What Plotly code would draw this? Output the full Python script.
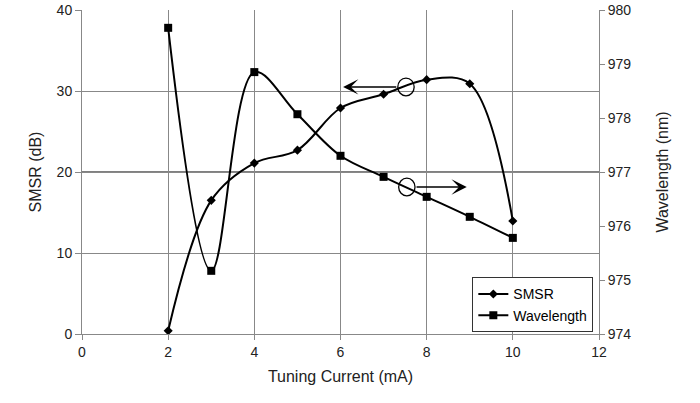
import plotly.graph_objects as go

current = [2, 3, 4, 5, 6, 7, 8, 9, 10]
smsr = [0.4, 16.5, 21.1, 22.7, 27.9, 29.6, 31.4, 30.9, 13.95]
wavelength = [979.67, 975.17, 978.85, 978.07, 977.3, 976.91, 976.54, 976.17, 975.78]

FONT = "Liberation Sans, Arial, sans-serif"

fig = go.Figure()
fig.add_trace(go.Scatter(
    x=current, y=smsr, name="SMSR", mode="lines+markers",
    line=dict(color="black", width=2, shape="spline", smoothing=1.0),
    marker=dict(symbol="diamond", size=7, color="black"),
))
fig.add_trace(go.Scatter(
    x=current, y=wavelength, name="Wavelength", mode="lines+markers", yaxis="y2",
    line=dict(color="black", width=2, shape="spline", smoothing=1.0),
    marker=dict(symbol="square", size=8, color="black"),
))

fig.update_layout(
    width=700, height=403,
    margin=dict(l=82, r=101, t=10, b=69, autoexpand=False),
    plot_bgcolor="white", paper_bgcolor="white",
    font=dict(family=FONT, size=14, color="#222"),
    showlegend=True,
    legend=dict(x=0.755, y=0.005, xanchor="left", yanchor="bottom",
                bordercolor="#333", borderwidth=1, bgcolor="white",
                font=dict(size=14, color="black"), tracegroupgap=0,
                itemwidth=30),
    xaxis=dict(range=[0, 12], dtick=2, tick0=0, showgrid=True, gridcolor="#888",
               gridwidth=1, zeroline=False, showline=True, linecolor="#888",
               ticks="outside", ticklen=5, tickcolor="#888", automargin=False,
               title=dict(text="Tuning Current (mA)", font=dict(size=16), standoff=12)),
    yaxis=dict(range=[0, 40], dtick=10, showgrid=True, gridcolor="#888",
               gridwidth=1, zeroline=False, showline=True, linecolor="#888",
               ticks="outside", ticklen=6, tickcolor="#888", automargin=False,
               ticklabeloverflow="allow",
               title=dict(text="SMSR (dB)", font=dict(size=16), standoff=11)),
    yaxis2=dict(range=[974, 980], dtick=1, overlaying="y", side="right",
                showgrid=False, zeroline=False, showline=True, linecolor="#888",
                ticks="outside", ticklen=5, tickcolor="#888", automargin=False,
                ticklabeloverflow="allow",
                title=dict(text="Wavelength (nm)", font=dict(size=16), standoff=26)),
)

# darker line at y=20
fig.add_shape(type="line", xref="x", yref="y", x0=0, x1=12, y0=20, y1=20,
              line=dict(color="black", width=1), layer="below")

# circles
fig.add_shape(type="circle", xref="x", yref="y", x0=7.33, x1=7.71, y0=29.4, y1=31.6,
              line=dict(color="black", width=1.3))
fig.add_shape(type="circle", xref="x", yref="y", x0=7.35, x1=7.73, y0=17.05, y1=19.25,
              line=dict(color="black", width=1.3))

# arrows
fig.add_annotation(x=6.06, y=30.5, ax=7.33, ay=30.5, xref="x", yref="y",
                   axref="x", ayref="y", showarrow=True, arrowhead=3,
                   arrowsize=1.7, arrowwidth=1.5, arrowcolor="black", text="")
fig.add_annotation(x=8.93, y=18.15, ax=7.73, ay=18.15, xref="x", yref="y",
                   axref="x", ayref="y", showarrow=True, arrowhead=3,
                   arrowsize=1.7, arrowwidth=1.5, arrowcolor="black", text="")

fig.write_html("out.html", config={"displayModeBar": False},
               post_script="document.body.style.margin='0px';")
